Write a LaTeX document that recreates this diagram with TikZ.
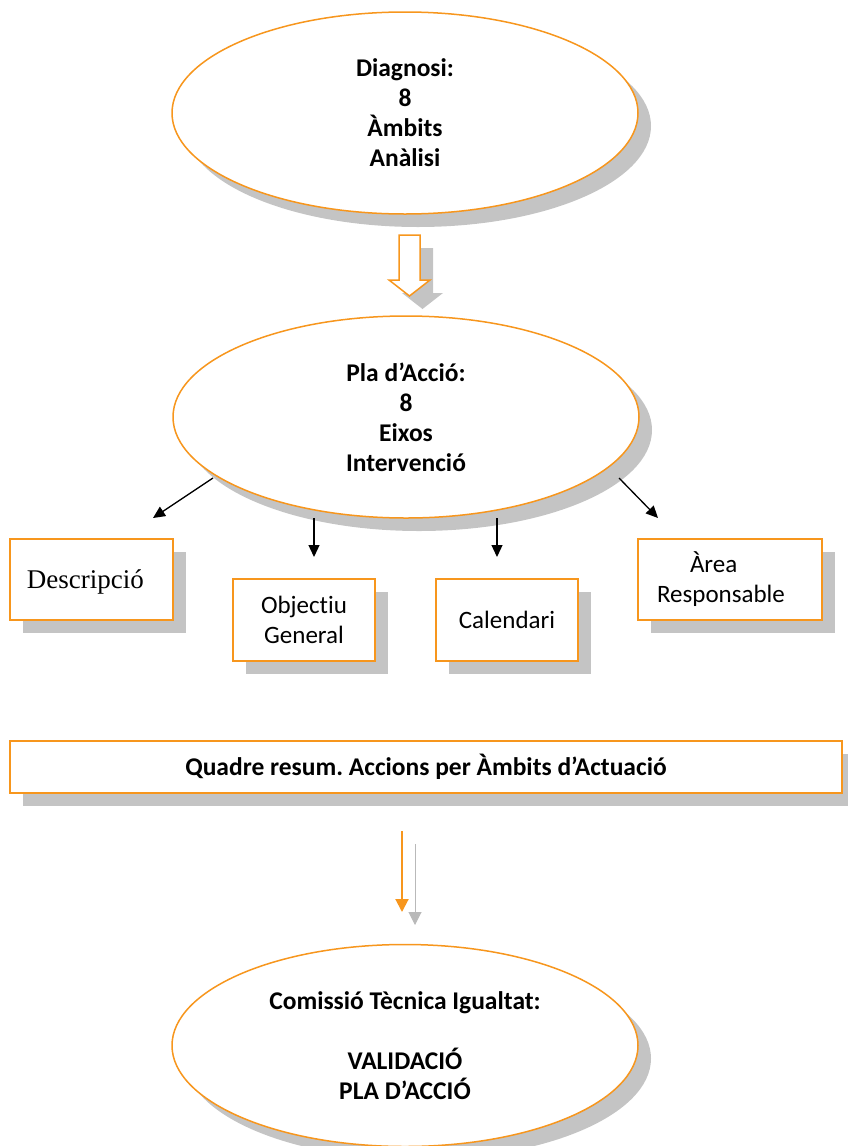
\documentclass[tikz,border=0pt]{standalone}
\usepackage{fontspec}
\setmainfont{Carlito}[Ligatures=NoCommon]
\newfontfamily\serifface{Liberation Serif}
\usetikzlibrary{shadows,calc,arrows.meta,shapes.geometric}
\definecolor{edgeorange}{RGB}{247,150,29}
\definecolor{shadowgray}{RGB}{196,196,196}

\begin{document}
\frenchspacing
\begin{tikzpicture}[x=1pt,y=-1pt,
  shade13/.style={drop shadow={shadow xshift=13pt,shadow yshift=-13pt,fill=shadowgray,opacity=1}},
  oval/.style={ellipse, draw=edgeorange, line width=1.5pt, fill=white,
    minimum width=466pt, minimum height=202pt, inner sep=0pt, align=center,
    font=\fontsize{25.5}{30}\selectfont\bfseries, shade13},
  card/.style={rectangle, draw=edgeorange, line width=2pt, fill=white,
    inner sep=0pt, align=center, font=\fontsize{25}{30}\selectfont, shade13},
  pointer/.style={-{Triangle[length=12pt,width=11pt]}, line width=1.3pt, black},
]
\useasboundingbox (0,0) rectangle (848,1146);

% the three stages
\node[oval] (diag) at (405,113) {Diagnosi:\\8\\Àmbits\\Anàlisi};
\node[oval] (pla) at (406,417) {Pla d’Acció:\\8\\Eixos\\Intervenció};
\node[oval] (val) at (405,1045.5) {Comissió Tècnica Igualtat:\\[30pt]VALIDACIÓ\\PLA D’ACCIÓ};

% block arrow between diagnosis and plan, with its shadow
\coordinate (bt) at ($(diag.center)+(4.5,122)$);
\fill[shadowgray] ([shift={(13,13)}]bt) ++(-10.5,0) -- ++(21,0) -- ++(0,45) -- ++(10,0)
  -- ++(-20.5,16) -- ++(-20.5,-16) -- ++(10,0) -- cycle;
\draw[edgeorange, line width=1.5pt, fill=white, line join=miter] (bt) ++(-10.5,0) -- ++(21,0)
  -- ++(0,45) -- ++(10,0) -- ++(-20.5,16) -- ++(-20.5,-16) -- ++(10,0) -- cycle;

% the four parts of each action
\node[card, minimum width=163pt, minimum height=81pt, text width=129pt, inner xsep=17pt,
  align=left, text depth=0pt, font=\serifface\fontsize{27}{32}\selectfont] (desc) at (91.5,579.5) {Descripció};
\node[card, minimum width=142pt, minimum height=82pt] (obj) at (304,620) {Objectiu\\General};
\node[card, minimum width=142pt, minimum height=82pt] (cal) at (507,620) {Calendari};
\node[card, minimum width=184pt, minimum height=81pt, text width=146pt, inner xsep=19pt,
  align=left] (area) at (730,579.5) {\hspace*{33pt}Àrea\\Responsable};

\draw[pointer] ($(pla.center)+(-193,61)$) -- ($(pla.center)+(-253,101)$);
\draw[pointer] ($(pla.center)+(-92,101)$) -- ($(pla.center)+(-92,140)$);
\draw[pointer] ($(pla.center)+(91,101)$) -- ($(pla.center)+(91,140)$);
\draw[pointer] ($(pla.center)+(213,61)$) -- ($(pla.center)+(252,101)$);

% summary table
\node[card, minimum width=832pt, minimum height=52pt,
  font=\fontsize{25.5}{30}\selectfont\bfseries] (quad) at (426,767)
  {Quadre resum. Accions per Àmbits d’Actuació};

% arrow towards validation, with its shadow
\coordinate (oa) at ($(quad.center)+(-24,64)$);
\coordinate (ob) at ($(quad.center)+(-24,145)$);
\draw[gray!55, line width=1pt, -{Triangle[length=13pt,width=13pt]}]
  ([shift={(13,13)}]oa) -- ([shift={(13,13)}]ob);
\draw[edgeorange, line width=2pt, -{Triangle[length=13pt,width=13pt]}] (oa) -- (ob);
\end{tikzpicture}
\end{document}
